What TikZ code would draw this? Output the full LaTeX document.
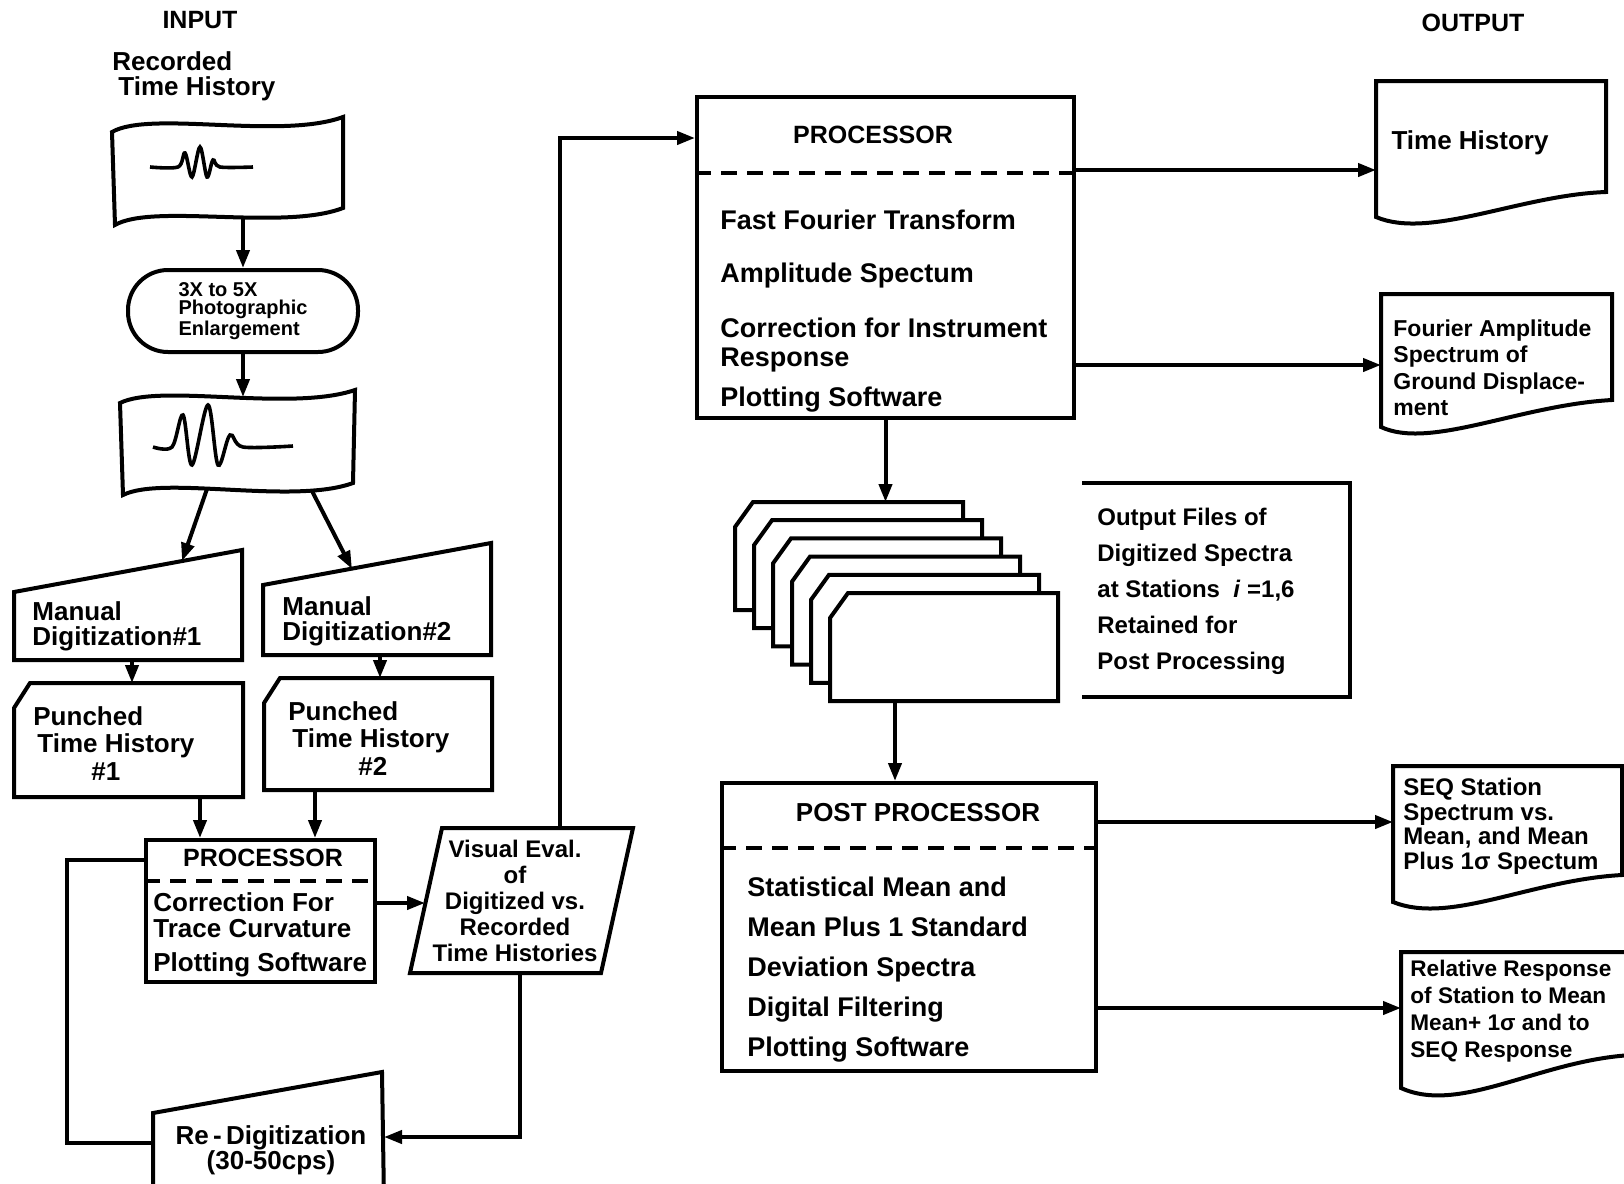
\documentclass[tikz,border=0pt]{standalone}
\usepackage{fontspec}
\setmainfont{Liberation Sans}
\usetikzlibrary{arrows.meta,positioning,calc}
\newcommand{\fsz}[2]{\fontsize{#1}{#2}\selectfont\bfseries}

\begin{document}
\begin{tikzpicture}[x=0.5pt,y=-0.5pt,
  shp/.style={line width=2pt,line join=miter},
  arr/.style={-{Triangle[length=9pt,width=6.5pt]},line width=2pt},
  sep/.style={line width=2pt,dash pattern=on 8pt off 5pt},
  txt/.style={inner sep=0pt,align=left,anchor=north west},
  ttl/.style={inner sep=0pt,font=\fsz{12.5}{13}},
  wave/.style={line width=1.8pt,smooth,tension=0.55}]
\useasboundingbox (0,0) rectangle (1624,1184);

% headings
\node[ttl] (in) at (200,20) {INPUT};
\node[ttl] (out) at (1473,23) {OUTPUT};
\node[txt,font=\fsz{13}{12.5}] (rec) at (112,51) {Recorded\\\hspace*{3pt}Time History};

% recorded trace and enlargement
\draw[shp] (112,132) .. controls (150,110) and (280,140) .. (343,117) -- (343,208)
  .. controls (283,231) and (153,203) .. (115,225) -- cycle;
\draw[wave] plot coordinates {(150,167) (178,167) (185,153) (192,177) (200,147)
  (207,177) (213,160) (220,167) (253,167)};
\coordinate (f1out) at (243,217);
\node[draw,shp,rounded corners=20pt,minimum width=115pt,minimum height=41pt,
  inner sep=0pt,align=left,font=\fsz{10}{9.3}] (enl) at (243,311)
  {3X to 5X\\Photographic\\Enlargement};
\draw[arr] (f1out) -- (enl.north);

\draw[shp] (120,403) .. controls (160,383) and (290,412) .. (355,390) -- (353,483)
  .. controls (293,505) and (163,475) .. (123,495) -- cycle;
\draw[wave] plot coordinates {(153,447) (172,447) (183,415) (192,465) (208,405)
  (218,465) (230,435) (243,447) (293,446)};
\coordinate (f2in) at (243,397);
\draw[arr] (enl.south) -- (f2in);
\coordinate (f2l) at (207,489);
\coordinate (f2r) at (312,491);

% manual digitization
\draw[shp] (14,592) -- (242,550) -- (242,660) -- (14,660) -- cycle;
\node[txt,font=\fsz{13}{12.5}] (md1) at (32,601) {Manual\\Digitization\#1};
\draw[shp] (263,585) -- (491,543) -- (491,655) -- (263,655) -- cycle;
\node[txt,font=\fsz{13}{12.5}] (md2) at (282,596) {Manual\\Digitization\#2};
\coordinate (md1in) at (182,561);
\coordinate (md2in) at (352,569);
\draw[arr] (f2l) -- (md1in);
\draw[arr] (f2r) -- (md2in);

% punched time histories
\draw[shp] (14,708) -- (30,683) -- (243,683) -- (243,797) -- (14,797) -- cycle;
\node[txt,font=\fsz{13}{13.75}] (p1) at (33,706)
  {Punched\\\hspace*{2pt}Time History\\\hspace*{29pt}\#1};
\draw[shp] (264,703) -- (280,678) -- (492,678) -- (492,790) -- (264,790) -- cycle;
\node[txt,font=\fsz{13}{13.75}] (p2) at (288,701)
  {Punched\\\hspace*{2pt}Time History\\\hspace*{35pt}\#2};
\coordinate (md1out) at (132,660);
\coordinate (md2out) at (380,655);
\draw[arr] (md1out) -- (md1out |- 0,683);
\draw[arr] (md2out) -- (md2out |- 0,678);

% first processor
\node[draw,shp,minimum width=114.5pt,minimum height=71pt] (proc1) at (260.5,911) {};
\draw[sep] (proc1.west |- 0,881) -- (proc1.east |- 0,881);
\node[ttl] (proc1t) at (263,858) {PROCESSOR};
\node[txt,font=\fsz{13}{13.3}] (proc1b) at (153,892)
  {Correction For\\Trace Curvature\\[3.5pt]Plotting Software};
\coordinate (p1out) at (200,797);
\coordinate (p2out) at (315,790);
\draw[arr] (p1out) -- (p1out |- proc1.north);
\draw[arr] (p2out) -- (p2out |- proc1.north);

% visual evaluation
\draw[shp] (442,828) -- (633,828) -- (601,973) -- (410,973) -- cycle;
\node[inner sep=0pt,align=center,font=\fsz{12}{12.9}] (ve) at (515,901)
  {Visual Eval.\\of\\Digitized vs.\\Recorded\\Time Histories};
\coordinate (vein) at (425,903);
\draw[arr] (proc1.east |- vein) -- (vein);

% re-digitization loop
\draw[shp] (153,1113) -- (382,1072) -- (384,1200) -- (153,1200) -- cycle;
\node[inner sep=0pt,align=center,font=\fsz{13}{12.5}] (rd) at (271,1150)
  {Re\,-\,Digitization\\(30-50cps)};
\coordinate (vebot) at (520,973);
\coordinate (rdin) at (384,1137);
\coordinate (rdout) at (153,1143);
\draw[arr] (vebot) |- (rdin);
\draw[shp] ($(proc1.north west)+(0,22)$) -| (67,1143) -- (rdout);

% main processor
\node[draw,shp,minimum width=188.5pt,minimum height=160.5pt] (bp) at (885.5,257.5) {};
\draw[sep] (bp.west |- 0,173) -- (bp.east |- 0,173);
\node[ttl] (bpt) at (873,135) {PROCESSOR};
\node[txt,font=\fsz{13.5}{14.5}] (bpb) at (720,210)
  {Fast Fourier Transform\\[12pt]Amplitude Spectum\\[13pt]Correction for Instrument\\
   Response\\[5.5pt]Plotting Software};
\coordinate (veout) at (560,828);
\draw[arr] (veout) |- ($(bp.north west)+(0,43)$);

% outputs of processor
\draw[shp] (1376,81) -- (1606,81) -- (1606,192) .. controls (1520,195) and (1430,240) .. (1376,217) -- cycle;
\node[inner sep=0pt,font=\fsz{13}{13}] (th) at (1470,143) {Time History};
\coordinate (thin) at (1376,170);
\draw[arr] (bp.east |- thin) -- (thin);
\draw[shp] (1381,294) -- (1612,294) -- (1612,400) .. controls (1520,405) and (1430,450) .. (1381,427) -- cycle;
\node[txt,font=\fsz{11.5}{13.3}] (fas) at (1393,319)
  {Fourier Amplitude\\Spectrum of\\Ground Displace-\\ment};
\coordinate (fasin) at (1381,365);
\draw[arr] (bp.east |- fasin) -- (fasin);

% stacked output files
\foreach \i in {0,...,5}
  \draw[shp,fill=white] ({735+19*\i},{527+18.2*\i}) -- ++(18,-25) -- ++(210,0)
    -- ++(0,108) -- ++(-228,0) -- cycle;
\coordinate (stkin) at (885.5,502);
\coordinate (stkout) at (895,701);
\draw[arr] (bp.south) -- (stkin);
\draw[shp] (1082,483) -- (1350,483) -- (1350,697) -- (1082,697);
\node[txt,font=\fsz{12}{17.9}] (files) at (1097,508)
  {Output Files of\\Digitized Spectra\\at Stations~~\textit{i} =1,6\\Retained for\\Post Processing};

% post processor
\node[draw,shp,minimum width=187pt,minimum height=144pt] (pp) at (909,927) {};
\draw[sep] (pp.west |- 0,848) -- (pp.east |- 0,848);
\node[inner sep=0pt,font=\fsz{13}{13}] (ppt) at (918,813) {POST PROCESSOR};
\node[txt,font=\fsz{13.5}{20}] (ppb) at (747,877)
  {Statistical Mean and\\Mean Plus 1 Standard\\Deviation Spectra\\Digital Filtering\\Plotting Software};
\draw[arr] (stkout) -- (stkout |- pp.north);

% outputs of post processor
\draw[shp] (1393,766) -- (1622,766) -- (1622,875) .. controls (1530,880) and (1450,925) .. (1393,902) -- cycle;
\node[txt,font=\fsz{12}{12.2}] (seq) at (1403,778)
  {SEQ Station\\Spectrum vs.\\Mean, and Mean\\Plus 1σ Spectum};
\coordinate (seqin) at (1393,822);
\draw[arr] (pp.east |- seqin) -- (seqin);
\draw[shp] (1401,952) -- (1632,952) -- (1632,1055) .. controls (1540,1060) and (1460,1115) .. (1401,1088) -- cycle;
\node[txt,font=\fsz{11.3}{13.5}] (rel) at (1410,960)
  {Relative Response\\of Station to Mean\\Mean+ 1σ and to\\SEQ Response};
\coordinate (relin) at (1401,1008);
\draw[arr] (pp.east |- relin) -- (relin);
\end{tikzpicture}
\end{document}
